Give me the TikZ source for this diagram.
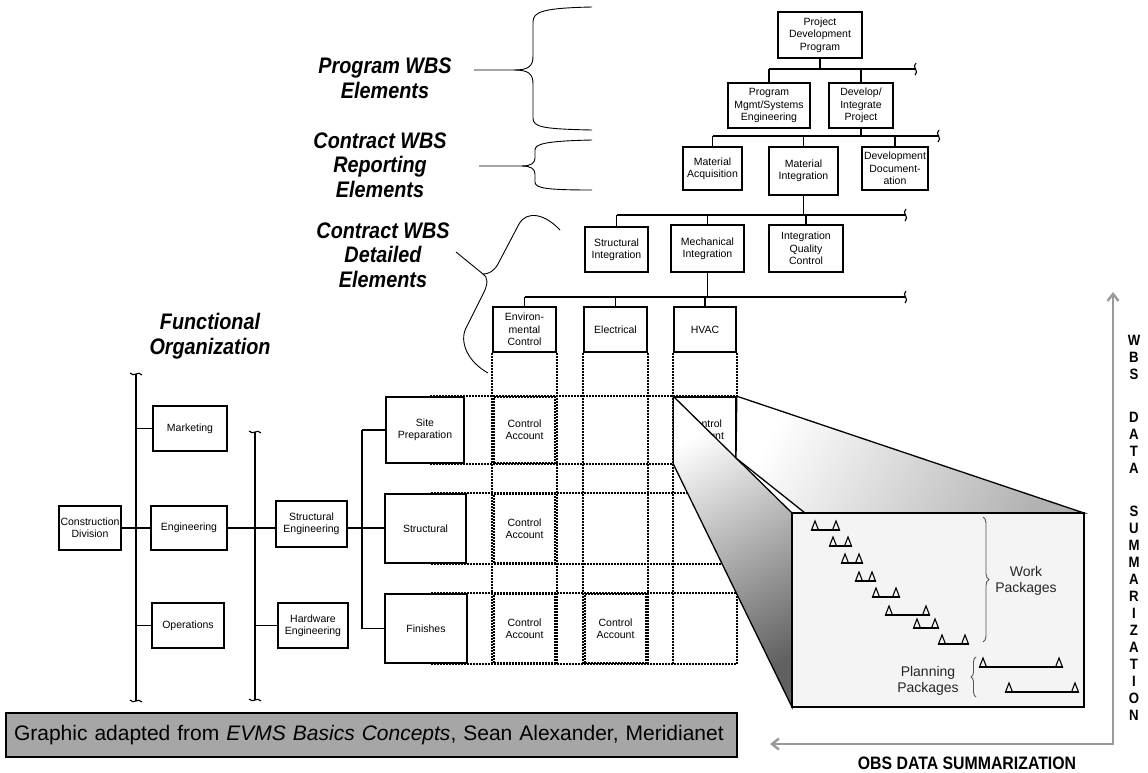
\documentclass[tikz,border=0pt]{standalone}
\usepackage{fontspec}
\setmainfont{Liberation Sans}
\newfontfamily\narrowsans[FakeStretch=0.88]{Liberation Sans}
\usetikzlibrary{arrows.meta,decorations.pathreplacing}
\definecolor{evgray}{HTML}{A6A6A6}
\definecolor{evarrow}{HTML}{999999}
\definecolor{evpanel}{HTML}{F4F4F4}
\definecolor{evbrace}{HTML}{555555}

\begin{document}
\begin{tikzpicture}[x=1pt, y=-1pt,
    box/.style={draw, line width=1.1pt, inner sep=1pt, align=center,
      font=\fontsize{10.5}{12.3}\selectfont},
    wire/.style={line width=1.1pt},
    gridline/.style={line width=2pt, dash pattern=on 2pt off 1pt},
    cell/.style={draw, gridline, minimum width=61, align=center, inner sep=0pt,
      font=\fontsize{10.5}{12.3}\selectfont},
    heading/.style={align=center, font=\narrowsans\fontsize{22.5}{24.5}\selectfont\bfseries\itshape},
    pkgtext/.style={align=center, text=black!85, font=\fontsize{14}{16.5}\selectfont},
    brkv/.pic={\draw[wire] (1,-6) .. controls (-4,-2) and (5,2) .. (0,6);},
    brkh/.pic={\draw[wire] (-6,-1) .. controls (-2,4) and (2,-4) .. (6,1);}]
    \useasboundingbox (0,0) rectangle (1148,772);

    % Headings
    \node[heading] (pwbs) at (385,78) {Program WBS\\Elements};
    \node[heading] (cwbsr) at (380,165) {Contract WBS\\Reporting\\Elements};
    \node[heading] (cwbsd) at (383,255) {Contract WBS\\Detailed\\Elements};
    \node[heading] (forg) at (210,336) {Functional\\Organization};

    % Braces
    \draw[line width=0.9pt] (474,70) -- (514,70) .. controls (529,70) and (533,66) .. (533,56)
        -- (533,22) .. controls (533,12) and (542,8) .. (592,7);
    \draw[line width=0.9pt] (514,70) .. controls (529,70) and (533,74) .. (533,84)
        -- (533,118) .. controls (533,127) and (542,129) .. (592,130);
    \draw[line width=0.9pt] (479,166) -- (522,166) .. controls (531,166) and (535,163) .. (535,158)
        -- (535,150) .. controls (535,144) and (545,141) .. (592,140);
    \draw[line width=0.9pt] (522,166) .. controls (531,166) and (535,169) .. (535,174)
        -- (535,182) .. controls (535,188) and (545,190) .. (592,190);
    \draw[line width=0.9pt] (456,252) -- (483,274);
    \draw[line width=0.9pt] (560,230) .. controls (545,214) and (527,210) .. (519,224)
        -- (498,264) .. controls (494,271) and (489,274) .. (483,274)
        .. controls (488,277) and (488,284) .. (484,292)
        -- (466,328) .. controls (459,342) and (468,362) .. (488,373);

    % WBS tree
    \node[box, minimum width=84, minimum height=46] (pdp) at (820,35) {Project\\Development\\Program};
    \node[box, minimum width=82, minimum height=45] (pmse) at (769,105.5) {Program\\Mgmt/Systems\\Engineering};
    \node[box, minimum width=64, minimum height=45] (dip) at (861,105.5) {Develop/\\Integrate\\Project};
    \node[box, minimum width=59, minimum height=43] (macq) at (712.5,168.5) {Material\\Acquisition};
    \node[box, minimum width=69, minimum height=48] (mint) at (803.5,171) {Material\\Integration};
    \node[box, minimum width=66, minimum height=43] (ddoc) at (895,168.5) {Development\\Document-\\ation};
    \node[box, minimum width=63, minimum height=45] (sint) at (616.5,249.5) {Structural\\Integration};
    \node[box, minimum width=73, minimum height=47] (mech) at (707.5,248.5) {Mechanical\\Integration};
    \node[box, minimum width=74, minimum height=47] (iqc) at (806,248.5) {Integration\\Quality\\Control};
    \node[box, minimum width=63, minimum height=45] (env) at (524.5,329.5) {Environ-\\mental\\Control};
    \node[box, minimum width=63, minimum height=45] (elec) at (615.5,329.5) {Electrical};
    \node[box, minimum width=62, minimum height=45] (hvac) at (705,329.5) {HVAC};

    \coordinate (bus1w) at (769,69);    \coordinate (bus1e) at (915,69);
    \coordinate (bus2w) at (712.5,136); \coordinate (bus2e) at (938,136);
    \coordinate (bus3w) at (616.5,215); \coordinate (bus3e) at (905,215);
    \coordinate (bus4w) at (524.5,297); \coordinate (bus4e) at (905,297);
    \draw[wire] (bus1w) -- (bus1e);
    \draw[wire] (bus2w) -- (bus2e);
    \draw[wire] (bus3w) -- (bus3e);
    \draw[wire] (bus4w) -- (bus4e);
    \pic at (bus1e) {brkv};
    \pic at (bus2e) {brkv};
    \pic at (bus3e) {brkv};
    \pic at (bus4e) {brkv};
    \draw[wire] (pdp) -- (pdp |- bus1w);
    \foreach \n in {pmse,dip}
        \draw[wire] (\n) -- (\n |- bus1w);
    \draw[wire] (dip) -- (dip |- bus2w);
    \foreach \n in {macq,mint,ddoc}
        \draw[wire] (\n) -- (\n |- bus2w);
    \draw[wire] (mint) -- (mint |- bus3w);
    \foreach \n in {sint,mech,iqc}
        \draw[wire] (\n) -- (\n |- bus3w);
    \draw[wire] (mech) -- (mech |- bus4w);
    \foreach \n in {env,elec,hvac}
        \draw[wire] (\n) -- (\n |- bus4w);

    % Functional organization
    \node[box, minimum width=62, minimum height=44] (cdiv) at (90,528) {Construction\\Division};
    \node[box, minimum width=74, minimum height=45] (mkt) at (190,428.5) {Marketing};
    \node[box, minimum width=76, minimum height=44] (eng) at (189,528) {Engineering};
    \node[box, minimum width=72, minimum height=45] (ops) at (188,625.5) {Operations};
    \node[box, minimum width=71, minimum height=46] (steng) at (311.5,524) {Structural\\Engineering};
    \node[box, minimum width=70, minimum height=45] (hweng) at (313,625.5) {Hardware\\Engineering};
    \node[box, minimum width=78, minimum height=66] (site) at (425,430) {Site\\Preparation};
    \node[box, minimum width=81, minimum height=69] (strc) at (425.5,528.5) {Structural};
    \node[box, minimum width=82, minimum height=69] (fin) at (426,628.5) {Finishes};

    \coordinate (v1t) at (136,374); \coordinate (v1b) at (136,701);
    \coordinate (v2t) at (255,432); \coordinate (v2b) at (255,700);
    \coordinate (v3t) at (362,430); \coordinate (v3b) at (362,628.5);
    \draw[wire] (v1t) -- (v1b);
    \draw[wire] (v2t) -- (v2b);
    \draw[wire] (v3t) -- (v3b);
    \foreach \c in {v1t,v1b,v2t,v2b}
        \pic at (\c) {brkh};
    \draw[wire] (cdiv) -- (eng);
    \draw[wire] (mkt) -- (mkt -| v1t);
    \draw[wire] (ops) -- (ops -| v1t);
    \draw[wire] (eng) -- (eng -| steng.west);
    \draw[wire] (hweng) -- (hweng -| v2t);
    \draw[wire] (eng -| steng.east) -- (eng -| strc.west);
    \draw[wire] (site) -- (site -| v3t);
    \draw[wire] (fin) -- (fin -| v3t);

    % Matrix of control accounts
    \foreach \c in {env,elec,hvac} {
        \draw[gridline] (\c.south west) -- (\c.south west |- fin.south);
        \draw[gridline] (\c.south east) -- (\c.south east |- fin.south);
    }
    \foreach \r in {site,strc,fin} {
        \draw[gridline] ([xshift=5pt]\r.north) -- (\r.north -| hvac.east);
        \draw[gridline] ([xshift=5pt]\r.south) -- (\r.south -| hvac.east);
    }
    \node[cell, minimum height=66] (ca1) at (env |- site) {Control\\Account};
    \node[cell, minimum height=69] (ca2) at (env |- strc) {Control\\Account};
    \node[cell, minimum height=69] (ca3) at (env |- fin) {Control\\Account};
    \node[cell, minimum height=69] (ca4) at (elec |- fin) {Control\\Account};
    \node[box, line width=1.6pt, minimum width=62, minimum height=66, inner sep=0pt] (ca5) at (hvac |- site) {Control\\Account};

    % Zoom into one control account
    \coordinate (cut) at (736,458);
    \draw[line width=1.3pt, top color=white, bottom color=black!62, shading angle=30]
        (ca5.north west) -- (792,513) -- (792,707) -- (ca5.south west) -- cycle;
    \draw[line width=1.3pt, top color=white, bottom color=black!30, shading angle=60]
        (ca5.north east) -- (1084,513) -- (805,513) -- (cut) -- cycle;
    \node[draw, line width=1.8pt, fill=evpanel, minimum width=292, minimum height=194, inner sep=0pt] (detail) at (938,610) {};

    % Work and planning packages
    \foreach \a/\b/\y in {815/836/530, 833/848/546, 845/859/563, 859/872/581,
            876/896/597, 889/926/615, 917/935/628, 942/965/644,
            983/1059/667, 1009/1075/692} {
        \draw[line width=1.1pt] (\a-4,\y) -- (\b+4,\y);
        \draw[line width=1.1pt] (\a-3.5,\y) -- (\a,\y-9) -- (\a+3.5,\y) -- cycle;
        \draw[line width=1.1pt] (\b-3.5,\y) -- (\b,\y-9) -- (\b+3.5,\y) -- cycle;
    }
    \draw[evbrace, line width=0.9pt, decorate, decoration={brace, amplitude=6pt}] (983,517) -- (983,642);
    \draw[evbrace, line width=0.9pt, decorate, decoration={brace, amplitude=5pt}] (976,697) -- (976,657);
    \node[pkgtext] (wp) at (1026,581) {Work\\Packages};
    \node[pkgtext] (pp) at (928,681) {Planning\\Packages};

    % Summarization arrows
    \coordinate (wbstip) at (1113,292);
    \coordinate (corner) at (1113,744);
    \coordinate (obstip) at (770,744);
    \draw[evarrow, line width=2.4pt, {Straight Barb[length=7pt,width=11pt]}-{Straight Barb[length=7pt,width=11pt]}]
        (wbstip) -- (corner) -- (obstip);
    \node[font=\narrowsans\fontsize{18}{20}\selectfont\bfseries] (obs) at (967,763) {OBS DATA SUMMARIZATION};
    \foreach \l/\y in {W/340, B/357, S/374, D/417, A/434, T/451, A/468,
            S/511, U/528, M/545, M/562, A/579, R/596, I/613, Z/630,
            A/647, T/664, I/681, O/698, N/715}
        \node[font=\narrowsans\fontsize{15}{17}\selectfont\bfseries] at (1134,\y) {\l};

    % Credit line
    \node[draw, line width=1.1pt, fill=evgray, text width=715, inner xsep=8pt, minimum height=44,
        align=left, font=\fontsize{21}{24}\selectfont] (credit) at (371.5,735)
        {Graphic adapted from \textit{EVMS Basics Concepts}, Sean Alexander, Meridianet};
\end{tikzpicture}
\end{document}
